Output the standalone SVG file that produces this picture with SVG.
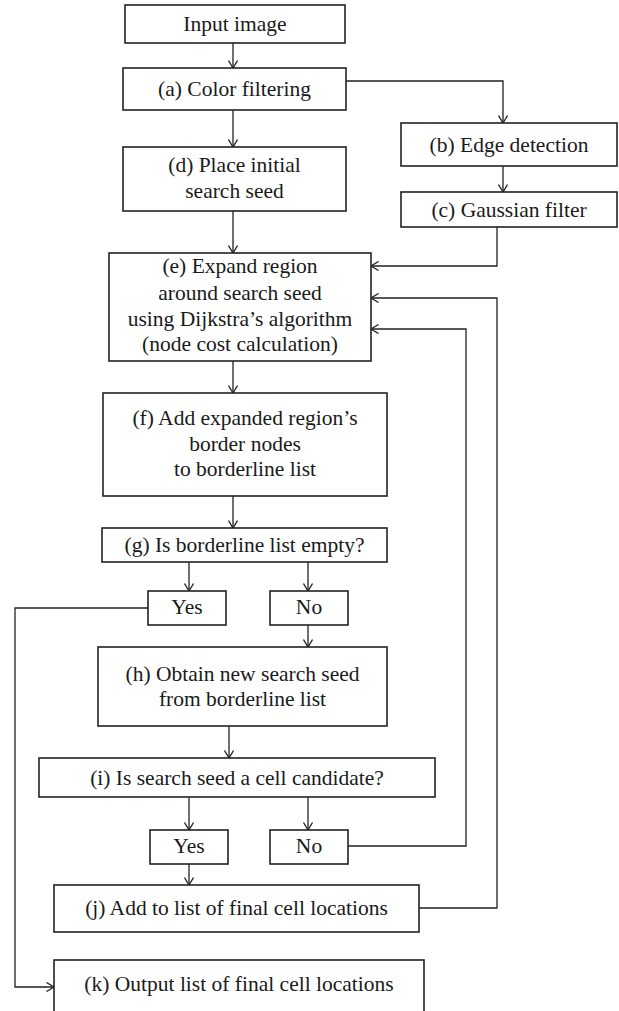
<svg xmlns="http://www.w3.org/2000/svg" width="619" height="1011" viewBox="0 0 619 1011">
<defs>
<marker id="arr" viewBox="0 0 8 10" refX="8" refY="5" markerWidth="8" markerHeight="10" markerUnits="userSpaceOnUse" orient="auto">
<path d="M0.5,0.5 L8,5 L0.5,9.5" fill="none" stroke="#222" stroke-width="1.3"/>
</marker>
<style>
.box{fill:#fff;stroke:#222;stroke-width:1.6}
.t{font-family:"Liberation Serif","Times New Roman",serif;font-size:21.5px;fill:#1a1a1a;text-anchor:middle}
.c{fill:none;stroke:#222;stroke-width:1.3;marker-end:url(#arr)}
</style>
</defs>
<rect width="619" height="1011" fill="#fff"/>
<g id="connectors">
<path class="c" d="M233,43 V68"/>
<path class="c" d="M233,110 V147"/>
<path class="c" d="M346,81 H503 V123"/>
<path class="c" d="M503,166 V192"/>
<path class="c" d="M233,211 V253"/>
<path class="c" d="M497,227 V266 H371"/>
<path class="c" d="M233,361 V393"/>
<path class="c" d="M233,496 V528"/>
<path class="c" d="M189,562 V591"/>
<path class="c" d="M308,562 V591"/>
<path class="c" d="M308,625 V647"/>
<path class="c" d="M148,608 H15 V987 H54"/>
<path class="c" d="M229,726 V758"/>
<path class="c" d="M189,797 V830"/>
<path class="c" d="M308,797 V830"/>
<path class="c" d="M348,846 H466 V329 H371"/>
<path class="c" d="M189,864 V885"/>
<path class="c" d="M419,908 H497 V298 H371"/>
</g>
<g id="input"><rect class="box" x="125" y="5" width="220" height="38"/><text class="t" x="235" y="31">Input image</text></g>
<g id="a"><rect class="box" x="123" y="68" width="223" height="42"/><text class="t" x="234.5" y="96">(a) Color filtering</text></g>
<g id="d"><rect class="box" x="123" y="147" width="223" height="64"/><text class="t" x="234.5" y="172">(d) Place initial</text><text class="t" x="234.5" y="198">search seed</text></g>
<g id="b"><rect class="box" x="401" y="123" width="216" height="43"/><text class="t" x="509" y="152">(b) Edge detection</text></g>
<g id="c"><rect class="box" x="401" y="192" width="216" height="35"/><text class="t" x="509" y="217">(c) Gaussian filter</text></g>
<g id="e"><rect class="box" x="109" y="253" width="262" height="108"/><text class="t" x="240" y="273">(e) Expand region</text><text class="t" x="240" y="300">around search seed</text><text class="t" x="240" y="326">using Dijkstra’s algorithm</text><text class="t" x="240" y="351">(node cost calculation)</text></g>
<g id="f"><rect class="box" x="103" y="393" width="284" height="103"/><text class="t" x="245" y="425">(f) Add expanded region’s</text><text class="t" x="245" y="451">border nodes</text><text class="t" x="245" y="476">to borderline list</text></g>
<g id="g"><rect class="box" x="102" y="528" width="285" height="34"/><text class="t" x="244.5" y="552">(g) Is borderline list empty?</text></g>
<g id="yes1"><rect class="box" x="148" y="591" width="78" height="34"/><text class="t" x="187" y="614">Yes</text></g>
<g id="no1"><rect class="box" x="270" y="591" width="78" height="34"/><text class="t" x="309" y="614">No</text></g>
<g id="h"><rect class="box" x="98" y="647" width="289" height="79"/><text class="t" x="242.5" y="681">(h) Obtain new search seed</text><text class="t" x="242.5" y="706">from borderline list</text></g>
<g id="i"><rect class="box" x="39" y="758" width="396" height="39"/><text class="t" x="237" y="785">(i) Is search seed a cell candidate?</text></g>
<g id="yes2"><rect class="box" x="150" y="830" width="78" height="34"/><text class="t" x="189" y="853">Yes</text></g>
<g id="no2"><rect class="box" x="270" y="830" width="78" height="34"/><text class="t" x="309" y="853">No</text></g>
<g id="j"><rect class="box" x="54" y="885" width="365" height="47"/><text class="t" x="236.5" y="915">(j) Add to list of final cell locations</text></g>
<g id="k"><rect class="box" x="54" y="960" width="370" height="60"/><text class="t" x="239" y="991">(k) Output list of final cell locations</text></g>
</svg>
